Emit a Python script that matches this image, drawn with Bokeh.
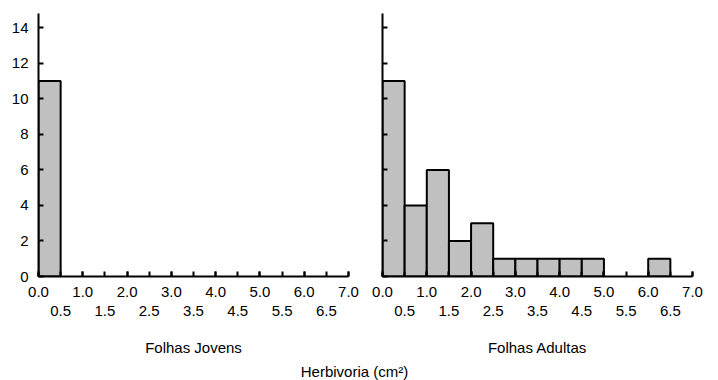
from bokeh.plotting import figure
from bokeh.layouts import row, column
from bokeh.models import Range1d, FixedTicker, LinearAxis, PrintfTickFormatter, Label
from bokeh.embed import file_html
from bokeh.resources import INLINE

# ---- data ----
bin_left = [0.0, 0.5, 1.0, 1.5, 2.0, 2.5, 3.0, 3.5, 4.0, 4.5, 5.0, 5.5, 6.0, 6.5]
bin_width = 0.5
jovens_counts = [11, 0, 0, 0, 0, 0, 0, 0, 0, 0, 0, 0, 0, 0]
adultas_counts = [11, 4, 6, 2, 3, 1, 1, 1, 1, 1, 0, 0, 1, 0]
x_int_ticks = [0.0, 1.0, 2.0, 3.0, 4.0, 5.0, 6.0, 7.0]
x_half_ticks = [0.5, 1.5, 2.5, 3.5, 4.5, 5.5, 6.5]
y_ticks = [0, 2, 4, 6, 8, 10, 12, 14]
panel_titles = ["Folhas Jovens", "Folhas Adultas"]
x_title = "Herbivoria (cm\u00b2)"

FONT = "Liberation Sans"
FS = "15px"


def make_panel(counts, title, show_ylabels, mb_left, mb_right):
    p = figure(frame_width=310, frame_height=263,
               x_range=Range1d(0, 7), y_range=Range1d(0, 14.8),
               output_backend="svg", toolbar_location=None,
               min_border_left=mb_left, min_border_right=mb_right,
               min_border_top=13, min_border_bottom=84)
    p.outline_line_color = None
    p.xgrid.visible = False
    p.ygrid.visible = False
    p.background_fill_color = "white"
    p.border_fill_color = "white"

    lefts = [l for l, c in zip(bin_left, counts) if c > 0]
    rights = [l + bin_width for l, c in zip(bin_left, counts) if c > 0]
    tops = [c for c in counts if c > 0]
    p.quad(left=lefts, right=rights, bottom=0, top=tops,
           fill_color="#c0c0c0", line_color="black", line_width=2)

    # x axis (integers + tick marks at halves)
    xa = p.xaxis[0]
    xa.ticker = FixedTicker(ticks=x_int_ticks, minor_ticks=x_half_ticks + x_int_ticks)
    xa.formatter = PrintfTickFormatter(format="%.1f")
    xa.axis_line_width = 2
    xa.axis_line_color = "black"
    xa.major_tick_in = 5
    xa.major_tick_out = 0
    xa.minor_tick_in = 5
    xa.minor_tick_out = 0
    xa.major_tick_line_width = 2
    xa.minor_tick_line_width = 2
    xa.major_tick_line_color = "black"
    xa.minor_tick_line_color = "black"
    xa.major_label_standoff = 10
    xa.major_label_text_font = FONT
    xa.major_label_text_font_size = FS
    xa.major_label_text_color = "black"

    # second row of labels (halves) + panel title
    xa2 = LinearAxis(ticker=FixedTicker(ticks=x_half_ticks),
                     formatter=PrintfTickFormatter(format="%.1f"))
    xa2.axis_line_color = None
    xa2.major_tick_line_color = None
    xa2.minor_tick_line_color = None
    xa2.major_tick_in = 0
    xa2.major_tick_out = 0
    xa2.major_label_standoff = 6
    xa2.major_label_text_font = FONT
    xa2.major_label_text_font_size = FS
    xa2.major_label_text_color = "black"
    xa2.axis_label = title
    xa2.axis_label_standoff = 20
    xa2.axis_label_text_font = FONT
    xa2.axis_label_text_font_size = FS
    xa2.axis_label_text_font_style = "normal"
    xa2.axis_label_text_color = "black"
    p.add_layout(xa2, "below")

    ya = p.yaxis[0]
    ya.ticker = FixedTicker(ticks=y_ticks)
    ya.axis_line_width = 2
    ya.axis_line_color = "black"
    ya.major_tick_in = 5
    ya.major_tick_out = 0
    ya.major_tick_line_width = 2
    ya.major_tick_line_color = "black"
    ya.minor_tick_line_color = None
    ya.major_label_text_font = FONT
    ya.major_label_text_color = "black"
    ya.major_label_text_font_size = FS
    if show_ylabels:
        ya.major_label_standoff = 10
    else:
        ya.major_label_standoff = 0
        ya.major_label_overrides = {t: "" for t in y_ticks}
    return p


left = make_panel(jovens_counts, panel_titles[0], True, 38, 13)
right = make_panel(adultas_counts, panel_titles[1], False, 21, 25)

# figures above are 13 + 263 + 84 = 360 tall; footer fills the remaining 20 px
footer = figure(width=718, height=20, x_range=Range1d(0, 718), y_range=Range1d(0, 20),
                output_backend="svg", toolbar_location=None,
                min_border=0)
footer.outline_line_color = None
footer.xaxis.visible = False
footer.yaxis.visible = False
footer.xgrid.visible = False
footer.ygrid.visible = False
footer.add_layout(Label(x=354, y=9, x_units="screen", y_units="screen", text=x_title,
                        text_align="center", text_baseline="middle",
                        text_font=FONT, text_font_size=FS, text_color="black"))

layout = column(row(left, right), footer)

open("out.html", "w").write(file_html(layout, INLINE))
